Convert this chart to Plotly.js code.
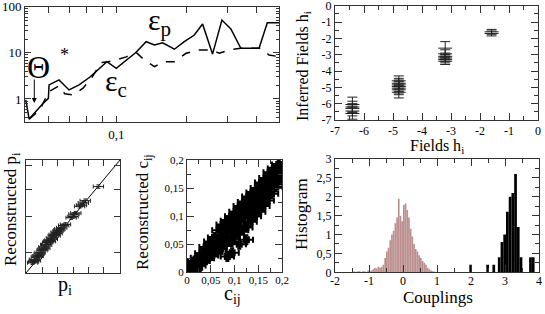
<!DOCTYPE html>
<html><head><meta charset="utf-8">
<script src="https://cdn.plot.ly/plotly-3.0.1.min.js"></script>
<style>html,body{margin:0;padding:0;background:#fff}</style>
</head><body>
<div id="chart" style="width:545px;height:314px"></div>
<script>
// ---- Panel 1: errors vs threshold ----
var thetaP = [0.0505,0.0518,0.0576,0.0599,0.0602,0.0649,0.0700,0.0755,0.0818,0.0932,0.1,0.1162,0.1253,0.1334,0.1420,0.1551,0.1672,0.1803,0.1919,0.2069,0.2221,0.2376,0.2562,0.2940,0.3129,0.342];
var epsP   = [0.956,0.366,0.81,1.03,2.02,2.59,1.57,2.02,2.96,6.45,4.64,10.3,17.5,14.8,16.6,12.0,17.5,24.4,42.2,9.4,51.5,33.2,12.6,12.6,45,45];
var thetaC = [0.0518,0.0562,0.0583,0.0602,0.0649,0.0678,0.0722,0.0778,0.0829,0.0893,0.0939,0.1,0.1078,0.1162,0.1237,0.1334,0.1438,0.1551,0.1694,0.1872,0.2069,0.2176,0.2346,0.2562,0.2978,0.317,0.342];
var epsC   = [0.366,0.58,0.96,1.45,1.92,1.29,1.23,1.71,2.82,6.14,6.45,7.0,8.2,10.2,7.02,5.03,6.45,6.45,9.8,11.56,11.56,9.8,11.56,12.6,12.6,9.0,8.27];
var p1XTicks = [0.06,0.07,0.08,0.09,0.1,0.1706,0.2316,0.2889];
var p1XText  = ['','','','','0,1','','',''];
var p1YTicks = [1,10,100];
var p1YText  = ['1','10','100'];
var p1YMinor = [0.4,0.5,0.6,0.7,0.8,0.9,2,3,4,5,6,7,8,9,20,30,40,50,60,70,80,90];

// ---- Panel 2: inferred vs true fields ----
var fieldGroups = [-6.4,-4.8,-3.2,-1.6];
var inferred = [
  [-6.05,-6.2,-6.3,-6.45,-6.6],
  [-4.6,-4.75,-4.85,-4.95,-5.05,-5.15,-5.3],
  [-2.6,-2.95,-3.1,-3.2,-3.3,-3.4],
  [-1.6,-1.7]
];
var inferredErr = [
  [0.45,0.35,0.3,0.3,0.35],
  [0.3,0.3,0.3,0.3,0.3,0.3,0.35],
  [0.4,0.25,0.2,0.2,0.2,0.2],
  [0.15,0.15]
];
var p2Ticks = [-7,-6,-5,-4,-3,-2,-1,0];
var p2Text  = ['-7','-6','-5','-4','-3','-2','-1','0'];

// ---- Panel 3: reconstructed p_i ----
var pTrue = [0.07,0.08,0.09,0.1,0.11,0.12,0.13,0.14,0.15,0.17,0.18,0.19,0.2,0.21,0.22,0.23,0.24,0.25,0.26,0.27,0.28,0.29,0.3,0.31,0.32,0.33,0.34,0.35,0.36,0.38,0.4,0.42,0.48,0.5,0.51,0.53,0.57,0.59,0.61,0.63,0.77];
var pRec  = [0.09,0.1,0.12,0.11,0.14,0.15,0.15,0.17,0.18,0.2,0.21,0.23,0.22,0.25,0.25,0.27,0.28,0.29,0.28,0.31,0.3,0.33,0.34,0.33,0.36,0.35,0.37,0.38,0.39,0.4,0.42,0.43,0.49,0.5,0.52,0.53,0.59,0.6,0.62,0.64,0.765];
var p3XTicks = [0.18,0.34,0.5,0.66,0.82];
var p3YTicks = [0.18,0.5,0.74,0.95];

// ---- Panel 4: reconstructed c_ij ----
var cTrue = [0.003,0.006,0.01,0.012,0.016,0.018,0.022,0.025,0.028,0.031,0.034,0.037,0.04,0.043,0.046,0.05,0.052,0.055,0.058,0.061,0.064,0.067,0.07,0.073,0.076,0.079,0.082,0.085,0.088,0.091,0.094,0.097,0.1,0.103,0.106,0.109,0.112,0.115,0.118,0.121,0.124,0.127,0.13,0.133,0.136,0.139,0.142,0.145,0.148,0.151,0.154,0.157,0.16,0.163,0.166,0.169,0.172,0.175,0.178,0.181,0.184,0.187,0.19,0.193,0.196,0.198,0.125,0.11,0.085,0.095,
  0.005,0.015,0.025,0.035,0.045,0.055,0.065,0.075,0.085,0.095,0.105,0.115,0.125,0.135,0.145,0.155,0.165,0.175,0.185,0.195];
var cRec  = [0.012,0.004,0.015,0.002,0.02,0.008,0.026,0.012,0.018,0.034,0.02,0.028,0.045,0.025,0.038,0.055,0.03,0.045,0.062,0.036,0.05,0.075,0.042,0.06,0.085,0.05,0.07,0.092,0.055,0.078,0.1,0.06,0.085,0.108,0.068,0.09,0.118,0.075,0.098,0.125,0.08,0.105,0.135,0.09,0.112,0.142,0.1,0.122,0.15,0.108,0.13,0.16,0.118,0.14,0.168,0.128,0.15,0.178,0.14,0.16,0.185,0.152,0.172,0.192,0.165,0.185,0.058,0.05,0.028,0.035,
  0.0,0.006,0.02,0.025,0.034,0.042,0.056,0.062,0.074,0.08,0.092,0.1,0.112,0.12,0.132,0.14,0.152,0.16,0.17,0.18];

// ---- Panel 5: histograms of couplings ----
var rosyStart = -1.5, rosyWidth = 0.05;
var rosyHeights = [0,0.03,0,0.03,0.03,0,0.03,0.03,0,0.05,0.03,0.05,0.08,0.12,0.1,0.15,0.12,0.15,0.2,0.38,0.55,0.65,0.85,1.0,1.1,1.3,1.45,1.95,1.5,1.35,1.78,1.82,1.65,1.45,1.15,0.95,0.75,0.62,0.55,0.45,0.38,0.3,0.25,0.2,0.12,0.08,0.05,0.03,0.02,0];
var blackCenters = [1.99,2.49,2.67,2.83,2.91,2.99,3.07,3.15,3.23,3.31,3.39,3.47,3.75,3.83];
var blackHeights = [0.2,0.2,0.2,0.4,0.8,1.0,1.6,2.0,2.1,2.6,1.2,0.4,0.4,0.4];
var blackWidth = 0.08;
var p5XTicks = [-2,-1,0,1,2,3,4];
var p5XText  = ['-2','-1','0','1','2','3','4'];

// ---- build ----
var W = 545, H = 314, FONT = 'Liberation Serif';
function dx(a,b){return [a/W,b/W];}
function dy(top,bot){return [1-bot/H,1-top/H];}

var traces = [];
traces.push({x:thetaP,y:epsP,xaxis:'x',yaxis:'y',mode:'lines',line:{color:'#000',width:1.5}});
traces.push({x:thetaC,y:epsC,xaxis:'x',yaxis:'y',mode:'lines',line:{color:'#000',width:1.5,dash:'dash'}});

var hx=[],hy=[],he=[];
fieldGroups.forEach(function(g,i){inferred[i].forEach(function(v,j){hx.push(g);hy.push(v);he.push(inferredErr[i][j]);});});
traces.push({x:hx,y:hy,xaxis:'x2',yaxis:'y2',mode:'markers',
  marker:{symbol:'line-ew',size:10,color:'#222',line:{color:'#222',width:1}},
  error_y:{type:'data',array:he,visible:true,width:5,thickness:1,color:'#222'}});

traces.push({x:[0,1],y:[0,1],xaxis:'x3',yaxis:'y3',mode:'lines',line:{color:'#000',width:1}});
traces.push({x:pTrue,y:pRec,xaxis:'x3',yaxis:'y3',mode:'markers',
  marker:{symbol:'line-ew',size:4,color:'#222',line:{color:'#222',width:1}},
  error_x:{type:'constant',value:0.055,visible:true,width:2,thickness:1,color:'#222'},
  error_y:{type:'constant',value:0.015,visible:true,width:2,thickness:1,color:'#222'}});

traces.push({x:cTrue,y:cRec,xaxis:'x4',yaxis:'y4',mode:'markers',
  marker:{symbol:'square',size:7,color:'#000'},
  error_x:{type:'constant',value:0.014,visible:true,width:3,thickness:2,color:'#000'},
  error_y:{type:'constant',value:0.008,visible:true,width:2,thickness:2,color:'#000'}});

var rosyX = rosyHeights.map(function(h,i){return rosyStart + rosyWidth*(i+0.5);});
traces.push({type:'bar',x:rosyX,y:rosyHeights,width:rosyWidth,xaxis:'x5',yaxis:'y5',
  marker:{color:'#bc8f8f',line:{width:0}}});
traces.push({type:'bar',x:blackCenters,y:blackHeights,width:blackWidth,xaxis:'x5',yaxis:'y5',
  marker:{color:'#000',line:{width:0}}});

var MINOR = {ticks:'inside',ticklen:4,tickcolor:'#333'};
function minor(o){var r={};for(var k in MINOR)r[k]=MINOR[k];for(var k2 in o)r[k2]=o[k2];return r;}
var axCommon = {showline:true,linecolor:'#333',linewidth:1,mirror:'ticks',ticks:'inside',
  tickcolor:'#333',showgrid:false,zeroline:false,ticklabeloverflow:'allow'};
function ax(o,fs){var r={};for(var k in axCommon)r[k]=axCommon[k];for(var k2 in o)r[k2]=o[k2];
  r.tickfont={family:FONT,size:fs||12,color:'#000'};return r;}

var layout = {
  width:W,height:H,margin:{l:0,r:0,t:0,b:0},showlegend:false,
  paper_bgcolor:'#fff',plot_bgcolor:'#fff',separators:',.',barmode:'overlay',
  font:{family:FONT,color:'#000'},
  xaxis:ax({domain:dx(25,279),anchor:'y',type:'log',range:[Math.log10(0.0502),Math.log10(0.3418)],
    tickmode:'array',tickvals:p1XTicks,ticktext:p1XText,ticklen:6},13),
  yaxis:ax({domain:dy(6.7,122),anchor:'x',type:'log',range:[-0.5,2.002],tickmode:'array',tickvals:p1YTicks,ticktext:p1YText,
    ticklen:6,minor:minor({tickmode:'array',tickvals:p1YMinor,ticklen:3})},13),
  xaxis2:ax({domain:dx(335,538),anchor:'y2',range:[-7,0],tickmode:'array',tickvals:p2Ticks,ticktext:p2Text,ticklen:7,
    minor:minor({dtick:0.5})},12),
  yaxis2:ax({domain:dy(5.7,120),anchor:'x2',range:[-7,0],tickmode:'array',tickvals:p2Ticks,ticktext:p2Text,ticklen:7,
    minor:minor({dtick:0.5})},12),
  xaxis3:ax({domain:dx(26,120),anchor:'y3',range:[0,1],tickmode:'array',tickvals:p3XTicks,showticklabels:false,ticklen:6}),
  yaxis3:ax({domain:dy(160,273),anchor:'x3',range:[0,1],tickmode:'array',tickvals:p3YTicks,showticklabels:false,ticklen:6}),
  xaxis4:ax({domain:dx(187,282),anchor:'y4',range:[0,0.2],dtick:0.05,ticklen:7,ticklabelstandoff:-3,
    minor:minor({dtick:0.025})},11),
  yaxis4:ax({domain:dy(160,272.3),anchor:'x4',range:[0,0.2],dtick:0.05,ticklen:7,
    minor:minor({dtick:0.025})},11),
  xaxis5:ax({domain:dx(335,539),anchor:'y5',range:[-2,4],tickmode:'array',tickvals:p5XTicks,ticktext:p5XText,ticklen:7,ticklabelstandoff:-3,
    minor:minor({dtick:0.5})},12),
  yaxis5:ax({domain:dy(159,272.3),anchor:'x5',range:[0,3],dtick:0.5,ticklen:7,
    minor:minor({dtick:0.25})},12),
  annotations:[]
};
function ann(t,px,py,size,angle){
  layout.annotations.push({text:t,xref:'paper',yref:'paper',x:px/W,y:1-py/H,xanchor:'center',yanchor:'middle',
    showarrow:false,textangle:angle||0,font:{size:size,family:FONT,color:'#000'}});
}
ann('Θ',38,67,32);
ann('*',64,55,18);
ann('ε<sub>p</sub>',159,22,30);
ann('ε<sub>c</sub>',116,83,30);
layout.annotations.push({text:'',xref:'paper',yref:'paper',x:34.3/W,y:1-103/H,ax:0,ay:-25,showarrow:true,
  arrowhead:2,arrowsize:1,arrowwidth:1,arrowcolor:'#000'});
ann('Inferred Fields h<sub>i</sub>',304,66,16,-90);
ann('Fields h<sub>i</sub>',437,146,16);
ann('Reconstructed p<sub>i</sub>',12,209,17,-90);
ann('p<sub>i</sub>',65,285,20);
ann('Reconstructed c<sub>ij</sub>',144,212,17,-90);
ann('c<sub>ij</sub>',232,294,20);
ann('Histogram',301,214,17,-90);
ann('Couplings',438,297,17);

Plotly.newPlot('chart',traces,layout,{staticPlot:true,displayModeBar:false});
</script></body></html>
